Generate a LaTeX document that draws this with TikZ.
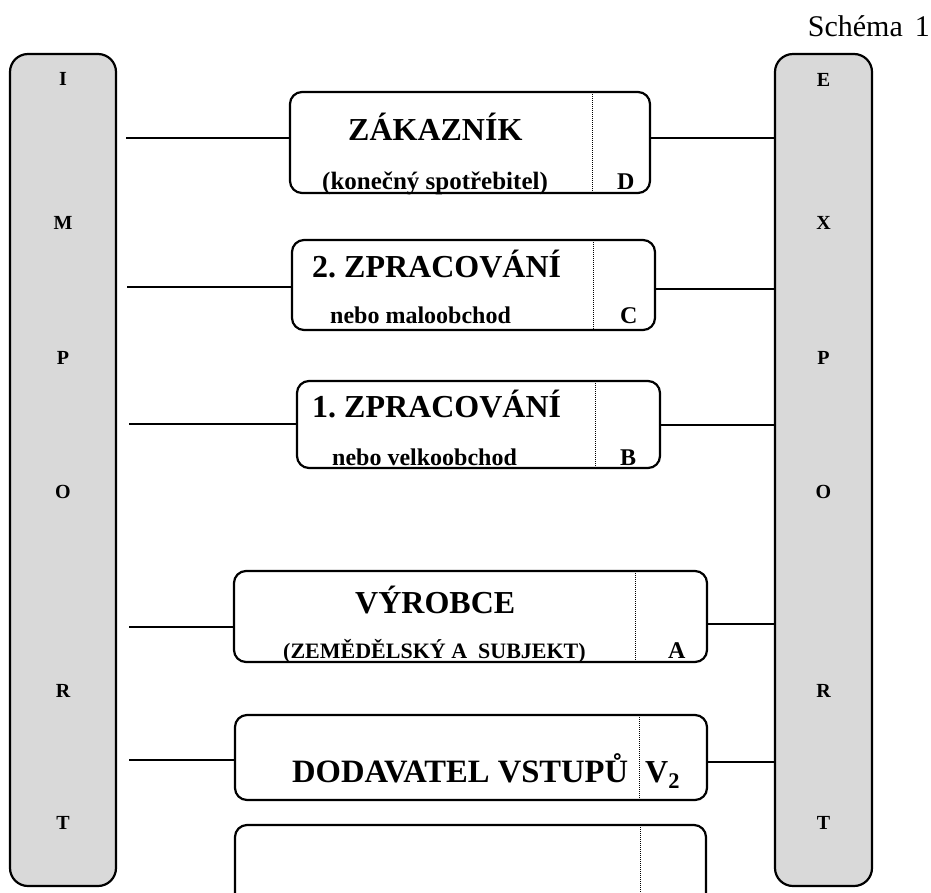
\documentclass[tikz,border=0pt]{standalone}
\usepackage{fontspec}
\setmainfont{Liberation Serif}[BoldFont={Liberation Serif Bold},ItalicFont={Liberation Serif Italic},BoldItalicFont={Liberation Serif Bold Italic}]
\frenchspacing
\definecolor{bargray}{HTML}{D9D9D9}
\begin{document}
\begin{tikzpicture}[x=1pt,y=-1pt,
  bar/.style={draw=black,fill=bargray,line width=2.2pt,rounded corners=18pt,rectangle,inner sep=0pt,outer sep=0pt},
  stage/.style={draw=black,fill=white,line width=2.2pt,rounded corners=12pt,rectangle,inner sep=0pt,outer sep=0pt},
  barletter/.style={font=\fontsize{20}{24}\selectfont\bfseries,inner sep=0pt,anchor=base},
  ttl/.style={font=\fontsize{32}{38}\selectfont\bfseries,inner sep=0pt,anchor=base west},
  sub/.style={font=\fontsize{24}{28}\selectfont\bfseries,inner sep=0pt,anchor=base west},
  conn/.style={line width=2pt},
  sep/.style={line width=0.8pt,dash pattern=on 0.8pt off 1.2pt}]
\useasboundingbox (0,0) rectangle (931,892);
\clip (0,0) rectangle (931,892);

% heading
\node[font=\fontsize{30}{36}\selectfont,inner sep=0pt,anchor=base east] (schema) at (930,36) {Schéma\hspace{12pt}1};

% side bars
\node[bar,minimum width=106pt,minimum height=832pt] (imp) at (63,470) {};
\node[bar,minimum width=97pt,minimum height=832pt] (exp) at (823.5,470) {};
\foreach \l/\y/\n in {I/85/i1,M/229/i2,P/364/i3,O/498/i4,R/697/i5,T/829/i6}
  \node[barletter] (\n) at (63,\y) {\l};
\foreach \l/\y/\n in {E/86/e1,X/229/e2,P/364/e3,O/498/e4,R/697/e5,T/829/e6}
  \node[barletter] (\n) at (823.5,\y) {\l};

% stage boxes
\node[stage,minimum width=360pt,minimum height=101pt] (D) at (470,142.5) {};
\node[stage,minimum width=363pt,minimum height=90pt] (C) at (473.5,285) {};
\node[stage,minimum width=363pt,minimum height=87pt] (B) at (478.5,424.5) {};
\node[stage,minimum width=473pt,minimum height=91pt] (A) at (470.5,616.5) {};
\node[stage,minimum width=472pt,minimum height=85pt] (V) at (471,757.5) {};
\node[stage,minimum width=471pt,minimum height=90pt] (Z) at (470.5,870) {};

% dotted separators
\coordinate (dD) at (592,0);
\coordinate (dC) at (593,0);
\coordinate (dB) at (595,0);
\coordinate (dA) at (635,0);
\coordinate (dV) at (639,0);
\coordinate (dZ) at (640,0);
\foreach \b in {D,C,B,A,V,Z}
  \draw[sep] (d\b |- \b.north) -- (d\b |- \b.south);

% texts
\node[ttl] (tD) at (348,140) {ZÁKAZNÍK};
\node[sub,font=\fontsize{25}{29}\selectfont\bfseries] (sD) at (322,189) {(konečný spotřebitel)};
\node[sub] (lD) at (617,189) {D};
\node[ttl] (tC) at (312,277) {2. ZPRACOVÁNÍ};
\node[sub] (sC) at (330,323) {nebo maloobchod};
\node[sub] (lC) at (620,323) {C};
\node[ttl] (tB) at (312,417) {1. ZPRACOVÁNÍ};
\node[sub] (sB) at (332,465) {nebo velkoobchod};
\node[sub] (lB) at (620,465) {B};
\node[ttl] (tA) at (355,613) {VÝROBCE};
\node[sub,font=\fontsize{22}{26}\selectfont\bfseries] (sA) at (283,658) {(ZEMĚDĚLSKÝ A~~SUBJEKT)};
\node[sub] (lA) at (668,658) {A};
\node[ttl,font=\fontsize{32.6}{38}\selectfont\bfseries] (tV) at (292,782) {DODAVATEL VSTUPŮ};
\node[ttl] (lV) at (645,782) {V\textsubscript{2}};

% connectors (left: from free end to box, right: box to export bar)
\coordinate (lD) at (126,138);
\coordinate (lC) at (127,287);
\coordinate (lB) at (129,424);
\coordinate (lA) at (129,627);
\coordinate (lV) at (129,760);
\coordinate (rD) at (0,138);
\coordinate (rC) at (0,289);
\coordinate (rB) at (0,425);
\coordinate (rA) at (0,624);
\coordinate (rV) at (0,762);
\foreach \b in {D,C,B,A,V}{
  \draw[conn] (l\b) -- (l\b -| \b.west);
  \draw[conn] (\b.east |- r\b) -- (exp.west |- r\b);
}
\end{tikzpicture}
\end{document}
